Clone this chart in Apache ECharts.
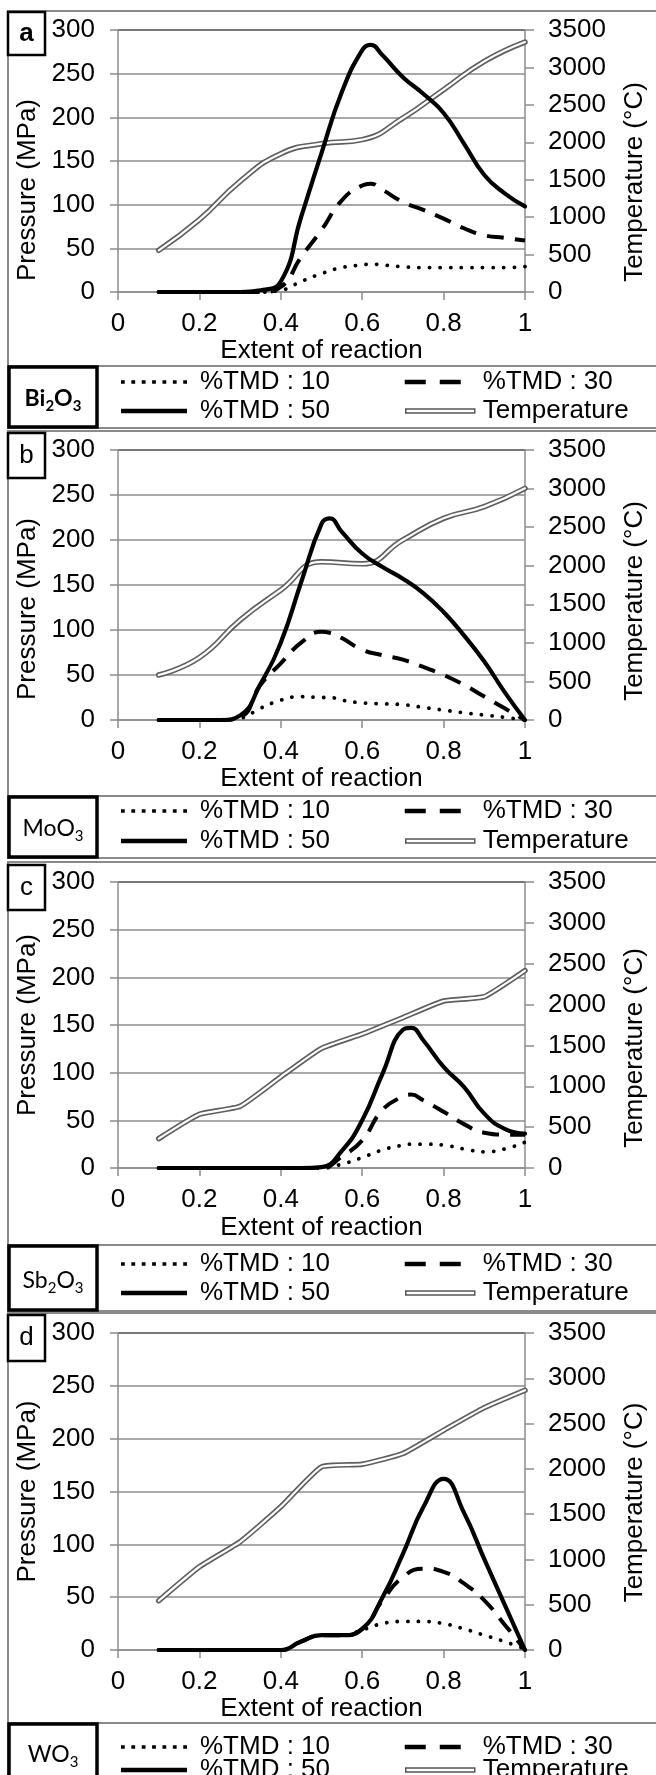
<!DOCTYPE html>
<html>
<head>
<meta charset="utf-8">
<script src="https://cdn.jsdelivr.net/npm/echarts@6/dist/echarts.min.js"></script>
<style>
html,body{margin:0;padding:0;background:#fff;}
#c{width:656px;height:1775px;}
</style>
</head>
<body>
<div id="c"></div>
<script>
// ---------------- DATA ----------------
const seriesNames = ['%TMD : 10', '%TMD : 30', '%TMD : 50', 'Temperature'];
const xAxisName = 'Extent of reaction';
const yLeftName = 'Pressure (MPa)';
const yRightName = 'Temperature (°C)';
const panelLetters = ['a', 'b', 'c', 'd'];
const oxideLabels = ['{n|Bi}{s|2}{n|O}{s|3}', '{n|MoO}{s|3}', '{n|Sb}{s|2}{n|O}{s|3}', '{n|WO}{s|3}'];

const tempX = [0.1, 0.2, 0.3, 0.4, 0.5, 0.6, 0.7, 0.8, 0.9, 1.0];

// (a) Bi2O3
const xA     = [0.1, 0.2, 0.3, 0.35, 0.4, 0.45, 0.5, 0.55, 0.6, 0.62, 0.65, 0.7, 0.75, 0.8, 0.85, 0.9, 0.95, 1.0];
const tmd10A = [0, 0, 0, 0, 2, 12, 21, 28, 31, 32, 31, 29, 28, 28, 28, 28, 28, 29];
const tmd30A = [0, 0, 0, 0, 6, 40, 71, 105, 122, 124, 117, 103, 94, 84, 73, 65, 62, 59];
const tmd50A = [0, 0, 0, 2, 12, 86, 159, 229, 277, 283, 271, 246, 227, 205, 170, 134, 113, 98];
const tempA  = [557, 966, 1478, 1848, 1981, 2035, 2324, 2703, 3081, 3339];

// (b) MoO3
const xB     = [0.1, 0.2, 0.25, 0.3, 0.35, 0.4, 0.45, 0.5, 0.52, 0.55, 0.6, 0.65, 0.7, 0.75, 0.8, 0.85, 0.9, 0.95, 1.0];
const tmd10B = [0, 0, 0, 2, 13, 22, 26, 25, 25, 22, 19, 18, 17, 14, 11, 8, 5.5, 3, 0];
const tmd30B = [0, 0, 0, 3, 39, 63, 86, 98, 97, 91, 78, 72, 67, 59, 50, 39, 26, 13, 0];
const tmd50B = [0, 0, 0, 5, 40, 86, 153, 218, 224, 209, 185, 170, 157, 141, 120, 94, 65, 31, 0];
const tempB  = [583, 810, 1296, 1685, 2050, 2025, 2334, 2614, 2766, 3003];

// (c) Sb2O3
const xC     = [0.1, 0.2, 0.3, 0.4, 0.45, 0.5, 0.55, 0.6, 0.65, 0.7, 0.72, 0.75, 0.8, 0.85, 0.9, 0.95, 1.0];
const tmd10C = [0, 0, 0, 0, 0, 0, 4, 11, 19, 24, 25, 25, 24, 20, 17, 20, 27];
const tmd30C = [0, 0, 0, 0, 0, 0, 12, 29, 61, 75, 77, 71, 59, 46, 37, 35, 35];
const tmd50C = [0, 0, 0, 0, 0, 1, 18, 50, 99, 145, 147, 134, 106, 85, 57, 41, 36];
const tempC  = [360, 658, 756, 1116, 1464, 1640, 1840, 2044, 2097, 2416];

// (d) WO3
const xD     = [0.1, 0.2, 0.3, 0.4, 0.45, 0.5, 0.55, 0.6, 0.65, 0.7, 0.75, 0.8, 0.85, 0.9, 0.95, 1.0];
const tmd10D = [0, 0, 0, 0, 8, 14, 14, 19, 25, 27, 27, 25, 20, 14, 8, 1];
const tmd30D = [0, 0, 0, 0, 8, 14, 14, 20, 47, 69, 77, 74, 63, 47, 24, 0];
const tmd50D = [0, 0, 0, 0, 8, 14, 14, 20, 50, 91, 135, 162, 130, 86, 43, 0];
const tempD  = [544, 919, 1195, 1581, 2022, 2051, 2169, 2426, 2676, 2868];

const panelData = [
  {x: xA, p10: tmd10A, p30: tmd30A, p50: tmd50A, temp: tempA, tSmooth: 0.5},
  {x: xB, p10: tmd10B, p30: tmd30B, p50: tmd50B, temp: tempB, tSmooth: 0.5},
  {x: xC, p10: tmd10C, p30: tmd30C, p50: tmd50C, temp: tempC, tSmooth: 0.15},
  {x: xD, p10: tmd10D, p30: tmd30D, p50: tmd50D, temp: tempD, tSmooth: 0.15}
];

// ---------------- LAYOUT (pixels) ----------------
const layout = [
  {top: 11,   bottom: 428,  sep: 366,  gTop: 30,   gH: 262, gRight: 121, row1: 382,  row2: 411,  lbl: [8, 12, 37, 43],   oxY: 399,  xNameGap: 43, pShift: 29, tShift: 21},
  {top: 431,  bottom: 858,  sep: 796,  gTop: 450,  gH: 270, gRight: 115, row1: 811,  row2: 841,  lbl: [8, 433, 37, 45],  oxY: 829,  xNameGap: 45, pShift: 24, tShift: 16},
  {top: 862,  bottom: 1311, sep: 1245, gTop: 882,  gH: 286, gRight: 120, row1: 1264, row2: 1293, lbl: [8, 865, 37, 45],  oxY: 1281, xNameGap: 47, pShift: 0,  tShift: 23},
  {top: 1313, bottom: 1800, sep: 1723, gTop: 1333, gH: 317, gRight: 120, row1: 1747, row2: 1770, lbl: [8, 1315, 37, 46], oxY: 1755, xNameGap: 44, pShift: 0,  tShift: 11}
];

const FONT = "'Liberation Sans', Arial, Helvetica, sans-serif";
const GRID_GRAY = '#8c8c8c';
const TOP_LINE = '#4a4a4a';
const plainNumber = v => String(v);

function pairs(xs, ys) { return xs.map((v, i) => [v, ys[i]]); }

const grid = [], xAxis = [], yAxis = [], series = [], legend = [], elements = [];

// legend icons (pure decoration)
const dotIcon = 'path://M0,0M66,6' + [0, 10.4, 20.8, 31.2, 41.6, 52, 62.4].map(x => `M${x},1.2h3.8v3.6h-3.8z`).join('');
const solidIcon = 'path://M0,0M66,6M0,0.8h66v4.4h-66z';
const dashIcon = 'path://M0,0M71,6M0,0.75h21v4.5h-21zM35,0.75h21v4.5h-21z';
const tempIcon = 'path://M0,0M71,6M1,1h69v4h-69z';

layout.forEach((L, i) => {
  const D = panelData[i];
  grid.push({left: 118, right: L.gRight, top: L.gTop, height: L.gH, containLabel: false});
  xAxis.push({
    gridIndex: i, type: 'value', min: 0, max: 1, interval: 0.2,
    axisLine: {show: true, onZero: false, lineStyle: {color: GRID_GRAY, width: 1.5}},
    axisTick: {show: true, length: 8, lineStyle: {color: GRID_GRAY, width: 1.5}},
    splitLine: {show: false},
    axisLabel: {fontSize: 26, color: '#000', fontFamily: FONT, margin: 19, formatter: plainNumber},
    name: xAxisName, nameLocation: 'middle', nameGap: L.xNameGap,
    nameTextStyle: {fontSize: 26, color: '#000', fontFamily: FONT}
  });
  yAxis.push({
    gridIndex: i, type: 'value', min: 0, max: 300, interval: 50, position: 'left',
    axisLine: {show: true, lineStyle: {color: GRID_GRAY, width: 1.5}},
    axisTick: {show: true, length: 8, lineStyle: {color: GRID_GRAY, width: 1.5}},
    splitLine: {show: true, lineStyle: {color: [GRID_GRAY, GRID_GRAY, GRID_GRAY, GRID_GRAY, GRID_GRAY, GRID_GRAY, TOP_LINE], width: 1.5}},
    axisLabel: {fontSize: 26, color: '#000', fontFamily: FONT, margin: 23, formatter: plainNumber},
    name: yLeftName, nameLocation: 'middle', nameGap: 74,
    nameTextStyle: {fontSize: 26, color: '#000', fontFamily: FONT, padding: [0, 2 * L.pShift, 0, 0]}
  });
  yAxis.push({
    gridIndex: i, type: 'value', min: 0, max: 3500, interval: 500, position: 'right',
    axisLine: {show: true, lineStyle: {color: GRID_GRAY, width: 1.5}},
    axisTick: {show: true, length: 9, lineStyle: {color: GRID_GRAY, width: 1.5}},
    splitLine: {show: false},
    axisLabel: {fontSize: 26, color: '#000', fontFamily: FONT, margin: 23, formatter: plainNumber},
    name: yRightName, nameLocation: 'middle', nameGap: 97,
    nameTextStyle: {fontSize: 26, color: '#000', fontFamily: FONT, padding: [0, 2 * L.tShift, 0, 0]}
  });

  // temperature double line
  series.push({
    type: 'line', name: seriesNames[3], xAxisIndex: i, yAxisIndex: 2 * i + 1,
    data: pairs(tempX, D.temp), smooth: D.tSmooth, symbol: 'none', silent: true, z: 2,
    lineStyle: {color: '#5e5e5e', width: 5.5, cap: 'round', join: 'round'}
  });
  series.push({
    type: 'line', name: 'Temperature (inner)', xAxisIndex: i, yAxisIndex: 2 * i + 1,
    data: pairs(tempX, D.temp), smooth: D.tSmooth, symbol: 'none', silent: true, z: 3,
    lineStyle: {color: '#ffffff', width: 2.2, cap: 'round', join: 'round'}
  });
  series.push({
    type: 'line', name: seriesNames[0], xAxisIndex: i, yAxisIndex: 2 * i,
    data: pairs(D.x, D.p10), smooth: 0.5, symbol: 'none', silent: true, z: 4,
    lineStyle: {color: '#000', width: 3.8, type: [0.1, 10.5], cap: 'round'}
  });
  series.push({
    type: 'line', name: seriesNames[1], xAxisIndex: i, yAxisIndex: 2 * i,
    data: pairs(D.x, D.p30), smooth: 0.5, symbol: 'none', silent: true, z: 5,
    lineStyle: {color: '#000', width: 4, type: [17, 11], cap: 'butt'}
  });
  series.push({
    type: 'line', name: seriesNames[2], xAxisIndex: i, yAxisIndex: 2 * i,
    data: pairs(D.x, D.p50), smooth: 0.5, symbol: 'none', silent: true, z: 6,
    lineStyle: {color: '#000', width: 4.2, cap: 'round', join: 'round'}
  });

  const rowGap = (L.row2 - L.row1) - 26;
  const legText = {fontSize: 26, color: '#000', fontFamily: FONT, lineHeight: 26};
  legend.push({
    orient: 'vertical', left: 121, top: L.row1 - 13, height: 80, padding: 0, itemGap: rowGap,
    itemWidth: 66, itemHeight: 6, selectedMode: false,
    textStyle: Object.assign({}, legText, {padding: [0, 0, 0, 8]}),
    data: [
      {name: seriesNames[0], icon: dotIcon, itemStyle: {color: '#000', borderWidth: 0}},
      {name: seriesNames[2], icon: solidIcon, itemStyle: {color: '#000', borderWidth: 0}}
    ]
  });
  legend.push({
    orient: 'vertical', left: 404, top: L.row1 - 13, height: 80, padding: 0, itemGap: rowGap,
    itemWidth: 71, itemHeight: 6, selectedMode: false,
    textStyle: Object.assign({}, legText, {padding: [0, 0, 0, 2]}),
    data: [
      {name: seriesNames[1], icon: dashIcon, itemStyle: {color: '#000', borderWidth: 0}},
      {name: seriesNames[3], icon: tempIcon, itemStyle: {color: '#fff', borderColor: '#555', borderWidth: 1.5}}
    ]
  });

  // frame
  elements.push({type: 'rect', silent: true, z: 1,
    shape: {x: 8, y: L.top, width: 700, height: L.bottom - L.top},
    style: {fill: 'none', stroke: '#8a8a8a', lineWidth: 2}});
  elements.push({type: 'line', silent: true, z: 1,
    shape: {x1: 8, y1: L.sep, x2: 660, y2: L.sep},
    style: {stroke: '#8a8a8a', lineWidth: 2}});
  // panel letter box
  elements.push({type: 'rect', silent: true, z: 2,
    shape: {x: L.lbl[0], y: L.lbl[1], width: L.lbl[2], height: L.lbl[3]},
    style: {fill: '#fff', stroke: '#000', lineWidth: 2.5}});
  elements.push({type: 'text', silent: true, z: 3,
    style: {text: panelLetters[i], x: L.lbl[0] + L.lbl[2] / 2, y: L.lbl[1] + L.lbl[3] / 2,
      align: 'center', verticalAlign: 'middle', fontSize: 26, fontFamily: FONT,
      fontWeight: i === 0 ? 'bold' : 'normal', fill: '#000'}});
  // oxide box
  elements.push({type: 'rect', silent: true, z: 2,
    shape: {x: 9, y: L.sep + 1, width: 88, height: L.bottom - L.sep - 2},
    style: {fill: '#fff', stroke: '#000', lineWidth: 3.5}});
  const bold = i === 0 ? 'bold' : 'normal';
  elements.push({type: 'text', silent: true, z: 3,
    style: {text: oxideLabels[i], x: 53, y: L.oxY, align: 'center', verticalAlign: 'middle',
      rich: {
        n: {fontSize: 23, fontFamily: "Lato, 'Open Sans', sans-serif", fontWeight: bold, lineHeight: 30, verticalAlign: 'middle', fill: '#000'},
        s: {fontSize: 15, fontFamily: "Lato, 'Open Sans', sans-serif", fontWeight: bold, lineHeight: 15, verticalAlign: 'bottom', fill: '#000'}
      }}});
});

const chart = echarts.init(document.getElementById('c'), null, {renderer: 'canvas'});
chart.setOption({
  animation: false,
  backgroundColor: '#fff',
  textStyle: {fontFamily: FONT},
  grid, xAxis, yAxis, series, legend,
  graphic: {elements}
});
</script>
</body>
</html>
